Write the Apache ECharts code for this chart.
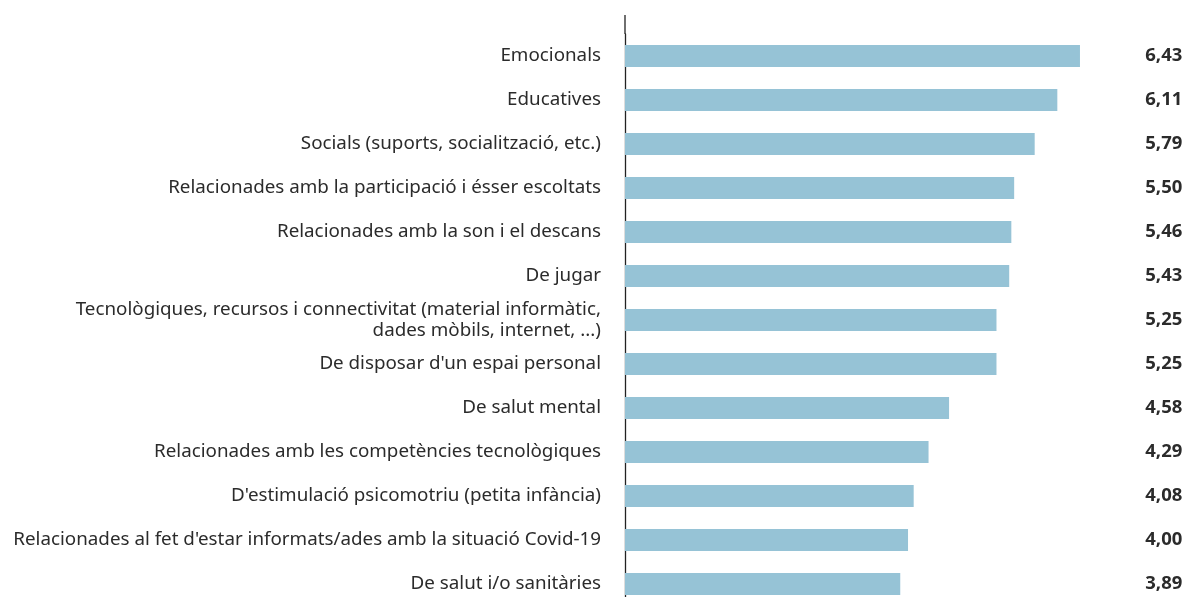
<!DOCTYPE html>
<html>
<head>
<meta charset="utf-8">
<script src="https://cdn.jsdelivr.net/npm/echarts@6/dist/echarts.min.js"></script>
<style>
  html, body { margin: 0; padding: 0; background: #fff; }
  #main { width: 1186px; height: 597px; }
</style>
</head>
<body>
<div id="main"></div>
<script>
// categories, top to bottom
var categories = [
    'Emocionals',
    'Educatives',
    'Socials (suports, socialització, etc.)',
    'Relacionades amb la participació i ésser escoltats',
    'Relacionades amb la son i el descans',
    'De jugar',
    'Tecnològiques, recursos i connectivitat (material informàtic,\ndades mòbils, internet, ...)',
    'De disposar d\'un espai personal',
    'De salut mental',
    'Relacionades amb les competències tecnològiques',
    'D\'estimulació psicomotriu (petita infància)',
    'Relacionades al fet d\'estar informats/ades amb la situació Covid-19',
    'De salut i/o sanitàries'
];
var values = [6.43, 6.11, 5.79, 5.50, 5.46, 5.43, 5.25, 5.25, 4.58, 4.29, 4.08, 4.00, 3.89];

// etiquetes de valor amb coma decimal
var valueLabels = values.map(function (v) {
    return v.toFixed(2).replace('.', ',');
});

var chart = echarts.init(document.getElementById('main'), null, { renderer: 'canvas' });

var option = {
    animation: false,
    textStyle: { fontFamily: 'Noto Sans' },
    grid: {
        left: 625,
        width: 495.3,
        top: 34,
        height: 572,
        containLabel: false,
        outerBoundsMode: 'none'
    },
    xAxis: {
        type: 'value',
        min: 0,
        max: 7,
        show: false
    },
    yAxis: [
        {
            type: 'category',
            inverse: true,
            data: categories,
            axisLine: { show: true, lineStyle: { color: '#222', width: 1.3 } },
            axisTick: { show: false },
            axisLabel: {
                margin: 24,
                fontSize: 18.8,
                color: '#2b2b2b',
                align: 'right',
                lineHeight: 21
            }
        },
        {
            type: 'category',
            inverse: true,
            position: 'right',
            data: valueLabels,
            axisLine: { show: false },
            axisTick: { show: false },
            axisLabel: {
                margin: 62,
                align: 'right',
                fontSize: 18.5,
                fontWeight: 'bold',
                color: '#2b2b2b'
            }
        }
    ],
    graphic: [
        {
            type: 'line',
            shape: { x1: 625, y1: 15, x2: 625, y2: 34 },
            style: { stroke: '#222', lineWidth: 1.3 }
        }
    ],
    series: [
        {
            type: 'bar',
            data: values,
            barWidth: 22,
            itemStyle: { color: '#96c3d6' }
        }
    ]
};

chart.setOption(option);
</script>
</body>
</html>
